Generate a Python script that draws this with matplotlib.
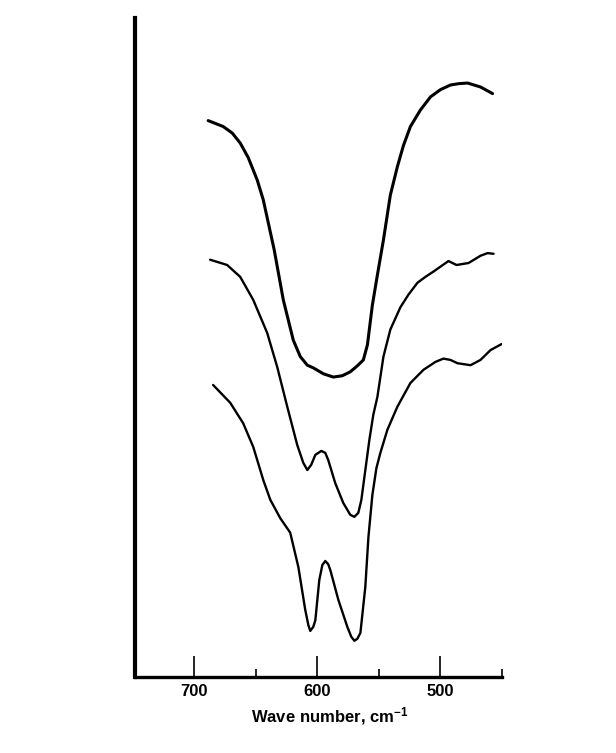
"""IR spectra, three samples stacked, 750-450 cm-1."""
import matplotlib
matplotlib.use("Agg")
import matplotlib.pyplot as plt
from matplotlib.ticker import FixedLocator

plt.rcParams["font.family"] = ["Liberation Sans Narrow", "Liberation Sans", "DejaVu Sans"]
plt.rcParams["mathtext.default"] = "regular"

# values (wavenumber, cm-1 / transmittance, arbitrary 0-100)
wn_top = [688.6, 676.4, 669.0, 662.6, 656.1, 648.8, 643.9, 635.0, 627.6, 619.5,
          613.8, 608.1, 603.3, 595.1, 587.0, 579.7, 573.2, 567.5, 562.6, 559.3,
          555.3, 551.2, 546.3, 540.7, 535.0, 530.1, 524.4, 516.3, 508.1, 500.0,
          491.9, 485.4, 478.0, 467.5, 457.7]
t_top = [84.4, 83.5, 82.5, 81.0, 78.8, 75.4, 72.4, 64.8, 57.2, 51.1,
         48.6, 47.3, 46.9, 46.0, 45.5, 45.7, 46.3, 47.2, 48.1, 50.4,
         56.4, 61.0, 66.3, 73.1, 77.4, 80.6, 83.5, 86.0, 88.0, 89.1,
         89.8, 90.0, 90.1, 89.5, 88.5]

wn_mid = [687.0, 673.2, 662.6, 652.0, 640.7, 632.5, 624.4, 616.3, 611.4, 608.1,
          604.9, 601.6, 596.7, 593.5, 591.1, 585.4, 578.9, 573.2, 569.9, 566.7,
          564.2, 561.0, 557.7, 554.5, 551.2, 546.3, 540.7, 532.5, 526.0, 518.7,
          512.2, 505.7, 493.5, 487.0, 477.2, 467.5, 461.8, 456.9]
t_mid = [63.3, 62.5, 60.7, 57.2, 52.2, 47.0, 41.0, 35.2, 32.5, 31.4,
         32.2, 33.7, 34.3, 34.0, 32.9, 29.4, 26.4, 24.6, 24.3, 24.9,
         26.9, 31.4, 36.0, 39.8, 42.5, 48.6, 52.7, 56.1, 58.0, 59.8,
         60.7, 61.5, 63.1, 62.5, 62.8, 63.9, 64.3, 64.2]

wn_bot = [684.6, 670.7, 660.2, 652.0, 643.9, 638.2, 630.1, 622.0, 615.4, 609.8,
          607.3, 605.7, 603.3, 601.6, 598.4, 595.9, 593.5, 591.1, 589.4, 582.9,
          575.6, 572.4, 569.9, 567.5, 565.0, 561.0, 558.5, 555.3, 552.0, 548.8,
          543.1, 535.0, 524.4, 513.8, 504.1, 497.6, 491.9, 486.2, 475.6, 467.5,
          459.3, 450.4]
t_bot = [44.3, 41.6, 38.5, 34.9, 29.9, 26.9, 24.1, 21.9, 16.7, 10.2,
         7.9, 7.0, 7.6, 8.6, 14.7, 17.0, 17.6, 17.1, 16.2, 11.7,
         7.6, 6.1, 5.5, 5.8, 6.7, 13.7, 21.2, 27.6, 31.7, 34.0,
         37.5, 41.0, 44.6, 46.6, 47.8, 48.3, 48.1, 47.6, 47.3, 48.1,
         49.6, 50.5]

major_ticks = [700, 600, 500]
minor_ticks = [650, 550, 450]

fig = plt.figure(figsize=(6.16, 7.53), dpi=100)
ax = fig.add_axes([0.2192, 0.1009, 0.5958, 0.8755])

style = dict(color="black", solid_joinstyle="round", solid_capstyle="round")
ax.plot(wn_top, t_top, lw=2.2, **style)
ax.plot(wn_mid, t_mid, lw=1.7, **style)
ax.plot(wn_bot, t_bot, lw=1.7, **style)

ax.set_xlim(748, 450)
ax.set_ylim(0, 100)

for side in ("top", "right"):
    ax.spines[side].set_visible(False)
ax.spines["left"].set_linewidth(3.0)
ax.spines["bottom"].set_linewidth(2.4)

ax.xaxis.set_major_locator(FixedLocator(major_ticks))
ax.xaxis.set_minor_locator(FixedLocator(minor_ticks))
ax.set_xticklabels([str(t) for t in major_ticks], fontsize=12, fontweight="bold")
ax.tick_params(axis="x", which="major", direction="in", length=15, width=1.2, pad=5)
ax.tick_params(axis="x", which="minor", direction="in", length=6, width=1.2)
ax.set_yticks([])

ax.set_xlabel("Wave number, cm$^{-1}$", fontsize=12, fontweight="bold")
ax.xaxis.label.set_va("baseline")
ax.xaxis.set_label_coords(0.531, -0.068)

fig.savefig("out.png", dpi=100, facecolor="white")
